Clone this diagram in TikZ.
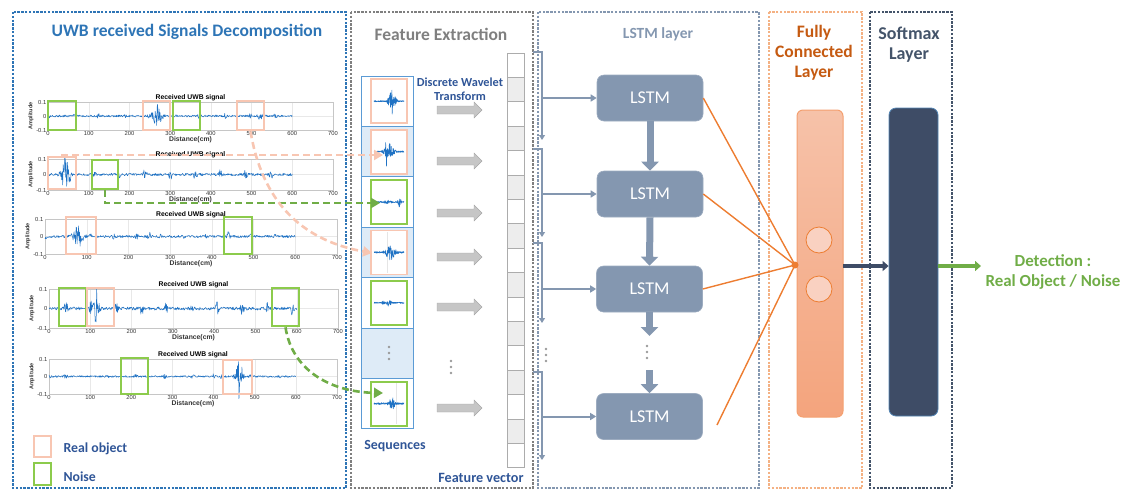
\documentclass[tikz,border=0pt]{standalone}
\usepackage{fontspec}
\setmainfont{Carlito}
\newfontfamily\plotfont{Liberation Sans}
\usetikzlibrary{arrows.meta,shapes.arrows}
\definecolor{uwbblue}{HTML}{2E75B6}
\definecolor{seqblue}{HTML}{5B9BD5}
\definecolor{seqfill}{HTML}{DEEBF7}
\definecolor{pinkc}{HTML}{F8C6B2}
\definecolor{greenc}{HTML}{8CCB4C}
\definecolor{greenarr}{HTML}{70AD47}
\definecolor{sigblue}{HTML}{1F72C4}
\definecolor{darktext}{HTML}{2F5597}
\definecolor{lstmc}{HTML}{8497B0}
\definecolor{orangel}{HTML}{ED7D31}
\definecolor{fctop}{HTML}{F6C2A9}
\definecolor{fcbot}{HTML}{F4A47D}
\definecolor{fcborder}{HTML}{F4A070}
\definecolor{fctitle}{HTML}{C55A11}
\definecolor{navy}{HTML}{44546A}
\definecolor{smfill}{HTML}{3E4C66}
\definecolor{graytitle}{HTML}{7F7F7F}
\definecolor{fvgray}{HTML}{EDEDED}
\definecolor{orpanel}{HTML}{F4B183}
\newcommand\uwbplot[6]{%
  \pgfmathsetmacro\ux{(#3-#2)/700}%
  \pgfmathsetmacro\ym{(#4+#5)/2}%
  \pgfmathsetmacro\yh{(#5-#4)/2}%
  \pgfmathsetmacro\xm{(#2+#3)/2}%
  \foreach \k in {100,200,...,600}{\draw[gridl] ({#2+\k*\ux},#4) -- ({#2+\k*\ux},#5);}
  \draw[gridl] (#2,\ym) -- (#3,\ym);
  \draw[axl] (#2,#4) rectangle (#3,#5);
  \draw[sig] plot[domain=0:600,samples=500] ({#2+\x*\ux},{\ym+(#6)*rand*\yh});
  \foreach \k in {0,100,...,700}{\node[tick,anchor=north] (#1x\k) at ({#2+\k*\ux},{#5+0.8}) {\k};}
  \node[tick,anchor=east] (#1ya) at ({#2-1},#4) {0.1};
  \node[tick,anchor=east] (#1yb) at ({#2-1},\ym) {0};
  \node[tick,anchor=east] (#1yc) at ({#2-1},#5) {-0.1};
  \node[tick,rotate=90,font=\plotfont\bfseries\fontsize{5.5}{6}\selectfont] (#1yl) at ({#2-17},\ym) {Amplitude};
  \node[ptitle,anchor=south] (#1t) at (\xm,{#4-0.3}) {Received UWB signal};
  \node[tick,anchor=north,font=\plotfont\bfseries\fontsize{6.8}{7}\selectfont] (#1xl) at (\xm,{#5+5.5}) {Distance(cm)};
}
\newcommand\selbox[6]{\node[#1,minimum width={#4-#2},minimum height={#5-#3}] (#6) at ({(#2+#4)/2},{(#3+#5)/2}) {};}
\newcommand\thumb[2]{\draw[sig,line width=0.6pt] plot[domain=0:1,samples=130] ({374+\x*30},{#1+(#2)*rand});}
\newcommand\brk[4]{%
  \draw[brk] (533,#1) -- (542,#1) -- (542,#2);
  \coordinate (#4in) at (542,#3);
  \draw[brkarrow] (#4in) -- (#4.west);
}
\begin{document}
\begin{tikzpicture}[x=1pt,y=-1pt,
  declare function={tri(\p,\cc,\w)=max(0,1-abs(\p-\cc)/\w); bst(\p,\cc,\w,\a)=\a*tri(\p,\cc,\w)*tri(\p,\cc,\w); per(\p,\q,\a)=\a*max(0,(cos(\p/\q*360)-0.85)/0.15);},
  panel/.style={line width=2.4pt,dash pattern=on 2.4pt off 1.4pt},
  gridl/.style={draw=gray!18,line width=0.3pt},
  axl/.style={draw=gray!45,line width=0.35pt},
  sig/.style={draw=sigblue,line width=0.5pt,line join=round},
  tick/.style={font=\plotfont\fontsize{5.8}{6}\selectfont,inner sep=0.5pt,text=black!80},
  ptitle/.style={font=\plotfont\bfseries\fontsize{6.8}{7}\selectfont,inner sep=0.5pt},
  rbox/.style={draw=pinkc,line width=2.6pt,inner sep=0},
  gbox/.style={draw=greenc,line width=2.6pt,inner sep=0},
  rsbox/.style={draw=pinkc,line width=1.8pt,inner sep=0,minimum width=36,minimum height=44},
  gsbox/.style={draw=greenc,line width=1.8pt,inner sep=0,minimum width=36,minimum height=44},
  seqcell/.style={draw=seqblue,line width=1pt,minimum width=52,minimum height=50.4,inner sep=0},
  fvcell/.style={draw=gray!65,line width=0.8pt,minimum width=17,minimum height=24.4,inner sep=0},
  garrow/.style={single arrow,draw=gray!70,fill=gray!45,inner sep=3.8pt,single arrow head extend=4pt,minimum height=45,single arrow head indent=0pt},
  lstm/.style={fill=lstmc,draw=lstmc!80!white,line width=0.6pt,rounded corners=7pt,minimum width=106,minimum height=46,text=white,font=\fontsize{18}{20}\selectfont},
  vbig/.style={draw=lstmc,line width=7pt,-{Triangle[length=9pt,width=17pt]}},
  brk/.style={draw=lstmc,line width=2pt,-{Triangle[length=5pt,width=6pt]}},
  brkarrow/.style={draw=lstmc,line width=2pt,-{Triangle[length=6pt,width=7pt]}},
  orl/.style={draw=orangel,line width=1.4pt},
  pdash/.style={draw=pinkc,line width=2.6pt,dash pattern=on 7pt off 4pt,-{Triangle[length=9pt,width=10pt]}},
  gdash/.style={draw=greenarr,line width=2.6pt,dash pattern=on 7pt off 4pt,-{Triangle[length=9pt,width=10pt]}},
  dotc/.style={fill=gray!80,draw=none,circle,inner sep=0,minimum size=2.8pt},
  ]
\pgfmathsetseed{7}
\useasboundingbox (0,0) rectangle (1125,491);
% panels
\draw[panel,draw=uwbblue] (13,12) rectangle (346,488);
\draw[panel,draw=graytitle] (351,12) rectangle (533,488);
\draw[panel,draw=lstmc] (538,12) rectangle (759,488);
\draw[panel,draw=orpanel] (769,12) rectangle (862,488);
\draw[panel,draw=navy] (870,12) rectangle (952,488);
% titles
\node[text=uwbblue,font=\bfseries\fontsize{17.5}{20}\selectfont] (t1) at (187,32) {UWB received Signals Decomposition};
\node[text=graytitle,font=\bfseries\fontsize{17.5}{20}\selectfont] (t2) at (441,34) {Feature Extraction};
\node[text=lstmc,font=\bfseries\fontsize{15.5}{17}\selectfont] (t3) at (658,34) {LSTM layer};
\node[text=fctitle,font=\bfseries\fontsize{17.5}{20}\selectfont,align=center] (t4) at (814,53) {Fully\\Connected\\Layer};
\node[text=navy,font=\bfseries\fontsize{18}{20}\selectfont,align=center] (t5) at (909,45) {Softmax\\Layer};
% plots
\uwbplot{pa}{48}{333}{102}{130}{0.07+bst(\x,268,25,0.9)+bst(\x,520,15,0.35)+per(\x,62,0.12)}
\uwbplot{pb}{48}{333}{159}{190}{0.08+bst(\x,42,22,1.1)+bst(\x,40,5,0.6)+per(\x+10,62,0.3)}
\uwbplot{pc}{45}{337}{219}{254}{0.07+bst(\x,80,25,0.8)+bst(\x,250,8,0.25)+bst(\x,440,8,0.18)+per(\x,55,0.1)}
\uwbplot{pd}{49}{338}{289}{328}{0.08+bst(\x,115,14,1.0)+per(\x+20,61,0.3)}
\uwbplot{pe}{49}{337}{359}{394}{0.05+bst(\x,462,18,1.3)+bst(\x,400,6,0.2)+bst(\x,40,10,0.12)+per(\x,70,0.08)}
% selection boxes
\selbox{gbox}{48}{101}{76}{130}{g11}
\selbox{rbox}{143}{101}{170}{130}{r11}
\selbox{gbox}{173}{101}{200}{130}{g12}
\selbox{rbox}{237}{101}{264}{130}{r12}
\selbox{rbox}{48}{157}{76}{189}{r21}
\selbox{gbox}{92}{160}{118}{189}{g21}
\selbox{rbox}{66}{217}{96}{254}{r31}
\selbox{gbox}{224}{217}{252}{254}{g31}
\selbox{gbox}{59}{288}{86}{326}{g41}
\selbox{rbox}{87}{288}{114}{326}{r41}
\selbox{gbox}{272}{288}{299}{326}{g42}
\selbox{gbox}{121}{358}{148}{394}{g51}
\selbox{rbox}{223}{360}{252}{394}{r51}
% legend
\selbox{rbox}{34}{436}{51}{457}{lr}
\selbox{gbox}{34}{463}{51}{485}{lg}
\node[text=darktext,font=\bfseries\fontsize{13.8}{15}\selectfont,anchor=west] (lrt) at (60,449) {Real object};
\node[text=darktext,font=\bfseries\fontsize{13.8}{15}\selectfont,anchor=west] (lgt) at (60,477) {Noise};
% sequences
\foreach \k in {1,3,5,7}{\node[seqcell,fill=white] (s\k) at (387,{76+25.2+50.4*(\k-1)}) {};}
\foreach \k in {2,4,6}{\node[seqcell,fill=seqfill] (s\k) at (387,{76+25.2+50.4*(\k-1)}) {};}
\node[rsbox,fill=white] (i1) at (389,101.2) {};
\node[rsbox,fill=white] (i2) at (389,151.6) {};
\node[gsbox,fill=white] (i3) at (389,202.0) {};
\node[rsbox,fill=white] (i4) at (389,252.4) {};
\node[gsbox,fill=white] (i5) at (389,302.8) {};
\node[gsbox,fill=white] (i7) at (389,403.6) {};
\draw[gray!20,line width=0.4pt] (387,232) -- (387,273);
\draw[gray!20,line width=0.4pt] (396,383) -- (396,424);
\thumb{101.2}{0.6+bst(\x,0.6,0.25,13)}
\thumb{151.6}{0.8+bst(\x,0.42,0.06,22)+bst(\x,0.5,0.3,9)}
\thumb{202.0}{0.6+bst(\x,0.85,0.1,6)+bst(\x,0.45,0.3,1.5)}
\thumb{252.4}{0.9+bst(\x,0.55,0.35,8)}
\thumb{302.8}{0.6+bst(\x,0.5,0.15,4)+bst(\x,0.3,0.1,1.5)}
\thumb{403.6}{0.9+bst(\x,0.6,0.2,7)}
\node[dotc] (sd1) at (389,347) {};
\node[dotc] (sd2) at (389,353) {};
\node[dotc] (sd3) at (389,359) {};
\node[text=darktext,font=\bfseries\fontsize{13.9}{15}\selectfont] (seqt) at (395,446) {Sequences};
% DWT arrows
\node[text=darktext,font=\bfseries\fontsize{12.3}{14}\selectfont,align=center] (dwt) at (460,89) {Discrete Wavelet\\Transform};
\foreach \k/\yy in {1/110,2/161,3/213,4/257,5/307,6/408}{\node[garrow] (ga\k) at (457.5,\yy) {};}
\node[dotc] (gd1) at (451,361) {};
\node[dotc] (gd2) at (451,367) {};
\node[dotc] (gd3) at (451,373) {};
% feature vector
\foreach \k in {1,3,...,17}{\node[fvcell,fill=white] (fv\k) at (515.5,{53+12.2+24.4*(\k-1)}) {};}
\foreach \k in {2,4,...,16}{\node[fvcell,fill=fvgray] (fv\k) at (515.5,{53+12.2+24.4*(\k-1)}) {};}
\node[text=darktext,font=\bfseries\fontsize{14.2}{15}\selectfont] (fvt) at (481,478) {Feature vector};
% LSTM
\node[lstm] (L1) at (650,98) {LSTM};
\node[lstm] (L2) at (650,194) {LSTM};
\node[lstm] (L3) at (649.5,289) {LSTM};
\node[lstm] (L4) at (649.5,416.5) {LSTM};
\draw[vbig] (L1.south) -- (L2.north);
\draw[vbig] (L2.south) -- (L3.north);
\coordinate (d1) at (649.5,336);
\coordinate (d2) at (649.5,370);
\draw[vbig] (L3.south) -- (d1);
\draw[vbig] (d2) -- (L4.north);
\node[dotc] (ld1) at (647,346) {};
\node[dotc] (ld2) at (647,352) {};
\node[dotc] (ld3) at (647,358) {};
\brk{52}{140}{98}{L1}
\brk{149}{237}{194}{L2}
\brk{243}{323}{289}{L3}
\brk{372}{460}{416.5}{L4}
\node[dotc] (bd1) at (546,349) {};
\node[dotc] (bd2) at (546,355) {};
\node[dotc] (bd3) at (546,361) {};
% FC layer
\node[draw=fcborder,line width=1pt,rounded corners=6pt,top color=fctop,bottom color=fcbot,minimum width=46,minimum height=307,inner sep=0] (fc) at (820,263.5) {};
\node[circle,draw=orangel,line width=0.8pt,fill=pinkc!80!white,minimum size=26,inner sep=0] (c1) at (819,240) {};
\node[circle,draw=orangel,line width=0.8pt,fill=pinkc!80!white,minimum size=26,inner sep=0] (c2) at (819,289) {};
\coordinate (J) at (795,265);
\coordinate (o4) at (717,425);
\draw[orl] (L1.east) -- (J);
\draw[orl] (L2.east) -- (J);
\draw[orl] (L3.east) -- (J);
\draw[orl] (o4) -- (J);
\fill[orangel] (J) circle (3.5);
% softmax
\node[draw=seqblue!70!navy,line width=0.8pt,fill=smfill,rounded corners=7pt,minimum width=49,minimum height=308,inner sep=0] (sm) at (913.5,262) {};
\coordinate (fcout) at (843,266);
\draw[draw=smfill,line width=4pt,-{Triangle[length=6pt,width=10pt]}] (fcout) -- (fcout -| sm.west);
\coordinate (det) at (981,266);
\draw[draw=greenarr,line width=4pt,-{Triangle[length=6pt,width=10pt]}] (det -| sm.east) -- (det);
\node[text=greenarr,font=\bfseries\fontsize{16.9}{20}\selectfont,align=center] (dett) at (1053,272) {Detection :\\Real Object / Noise};
% dashed arrows
\coordinate (ps) at (61,155);
\coordinate (pe) at (383,155);
\draw[pdash] (ps) -- (pe);
\coordinate (ge) at (380,203);
\draw[gdash] (g21.south) |- (ge);
\coordinate (pc) at (372,253);
\draw[pdash] (r12.south) .. controls (262,200) and (300,240) .. (pc);
\coordinate (gc) at (383,393);
\draw[gdash] (g42.south) .. controls (292,370) and (330,392) .. (gc);
\end{tikzpicture}
\end{document}
